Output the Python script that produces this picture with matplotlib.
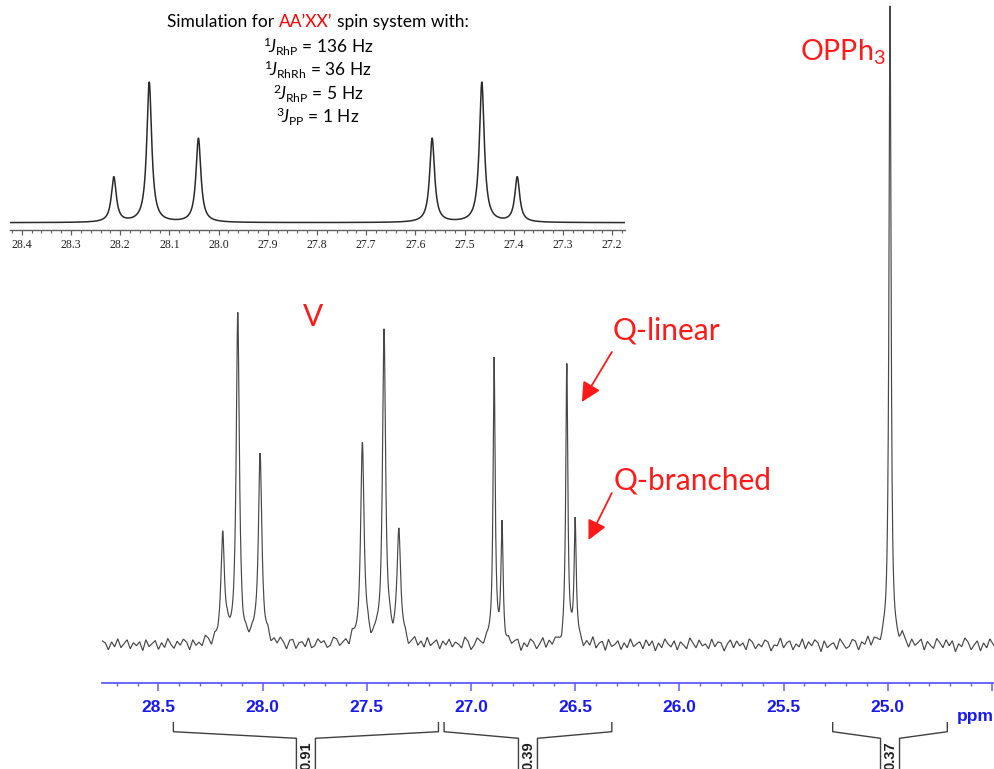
import numpy as np
import matplotlib
matplotlib.use("Agg")
import matplotlib.pyplot as plt
from matplotlib.ticker import MultipleLocator, FuncFormatter
from matplotlib.transforms import blended_transform_factory

# ---------------- data ----------------
# measured 31P spectrum: peak positions (ppm), heights (arb.), widths (ppm FWHM)
peak_ppm = [28.191, 28.119, 28.012, 27.521, 27.417, 27.346,
            26.889, 26.851, 26.540, 26.500, 24.989]
peak_height = [110, 325, 190, 198, 312, 112,
               287, 112, 279, 121, 634]
peak_width = [0.02, 0.018, 0.02, 0.02, 0.018, 0.02,
              0.012, 0.012, 0.012, 0.012, 0.012]

# baseline noise, every 0.015 ppm starting at 28.77 ppm
baseline_noise = [
    3, -2, 5, -4, 1, 6, -3, 2, -6, 4, 0, -5, 3, 7, -2, 1, -7, 4, -1, 5,
    -3, 2, 6, -4, -1, 3, -6, 5, 1, -2, 4, -5, 2, 8, -3, 0, -4, 6, -2, 3,
    -5, 1, 4, -3, 7, -1, 2, -6, 3, 5, -2, -4, 1, 6, -5, 2, 0, -3, 4, -7,
    2, 5, -1, 3, -4, 6, -2, 1, -5, 4, 2, -3, 7, -1, 0, -6, 3, 5, -2, 1,
    -4, 3, 6, -5, 2, -1, 4, -3, 5, 1, -6, 2, 3, -2, 6, -4, 1, -1, 5, -3,
    2, 7, -4, 0, 3, -5, 4, -2, 1, 6, -3, 2, -6, 4, -1, 5, -4, 3, 1, -2,
    6, -3, 2, -5, 4, 0, -2, 5, -6, 3, 1, -4, 7, -2, 2, -5, 3, 4, -1, 2,
    -3, 5, -6, 1, 4, -2, 3, -4, 6, 0, -5, 2, 5, -3, 1, -7, 4, 2, -2, 3,
    -4, 6, -1, 3, -5, 2, 4, -3, 1, 5, -2, -6, 3, 7, -4, 0, 2, -3, 5, -1,
    3, -5, 4, 1, -2, 6, -4, 2, -3, 5, 0, -6, 4, 2, -1, 3, -5, 6, -2, 1,
    -3, 4, 2, -6, 5, -1, 3, -4, 1, 7, -5, 2, 0, -3, 4, 6, -2, -4, 3, 1,
    5, -2, -4, 6, -3, 2, 1, -5, 4, 3, -6, 1, 5, -2, 2, -4, 6, -1, 3, -5,
    2, 4, -3, 1, -6, 5, 3, -2, 0, 6, -4, 2, -1, 4, -5, 3, 7, -3, 1, -2,
    4, -6, 2, 5, -1, 3, -4, 0, 6, -3, 2, -5, 4, 1, -2, 5, -6, 3, -1, 2,
    -4, 5, 1, -3, 6, -2, 3, -5, 2, 4,
]
noise_start_ppm = 28.77
noise_step_ppm = 0.015

# simulated AA'XX' spectrum (inset)
sim_ppm = [28.213, 28.141, 28.041, 27.566, 27.465, 27.393]
sim_height = [45, 140, 84, 84, 140, 45]
sim_width = 0.012

# integrals
integral_regions = [(28.428, 27.156), (27.129, 26.324), (25.264, 24.714)]
integral_labels = ["0.91", "0.39", "0.37"]

main_ticks_major = 0.5
main_ticks_minor = 0.1
inset_ticks_major = 0.1
inset_ticks_minor = 0.02

# ---------------- style ----------------
plt.rcParams["mathtext.fontset"] = "custom"
plt.rcParams["mathtext.rm"] = "Lato"
plt.rcParams["mathtext.it"] = "Lato:italic"
plt.rcParams["mathtext.bf"] = "Lato:bold"

W, H = 995, 769
fig = plt.figure(figsize=(W / 100, H / 100), dpi=100)
fig.patch.set_facecolor("white")


def lorentz_sum(x, centers, heights, widths):
    y = np.zeros_like(x)
    for c, h, w in zip(centers, heights, widths):
        g = w / 2.0
        y += h / (1.0 + ((x - c) / g) ** 2)
    return y


# ---------------- main spectrum ----------------
ax = fig.add_axes([101.7 / W, 1 - 683 / H, (994 - 101.7) / W, 683 / H])
xlo, xhi = 28.772, 24.490
ax.set_xlim(xlo, xhi)
ax.set_ylim(-38, 645)

x = np.linspace(28.78, 24.48, 6000)
noise_ppm = noise_start_ppm - noise_step_ppm * np.arange(len(baseline_noise))
noise = np.interp(x[::-1], noise_ppm[::-1], np.array(baseline_noise, float))[::-1]
y = lorentz_sum(x, peak_ppm, peak_height, peak_width) + noise
ax.plot(x, y, color="#474747", lw=0.85, solid_joinstyle="miter")

for s in ["top", "left", "right"]:
    ax.spines[s].set_visible(False)
ax.spines["bottom"].set_color("#5c5cff")
ax.spines["bottom"].set_linewidth(1.3)
ax.set_yticks([])
ax.xaxis.set_major_locator(MultipleLocator(main_ticks_major))
ax.xaxis.set_minor_locator(MultipleLocator(main_ticks_minor))
ax.xaxis.set_major_formatter(FuncFormatter(lambda v, p: "" if v < 24.75 else f"{v:.1f}"))
ax.tick_params(axis="x", which="major", direction="out", length=5.5, width=1.1,
               color="#5c5cff", pad=6.5, labelsize=12.5, labelcolor="#1818f0")
ax.tick_params(axis="x", which="minor", direction="out", length=2.3, width=1.0,
               color="#5c5cff")
for lab in ax.get_xticklabels():
    lab.set_family("Liberation Sans")
    lab.set_fontweight("bold")
ax.patch.set_alpha(0)

ax.text(1.0, -0.0375, "ppm", transform=ax.transAxes, ha="right", va="top",
        family="Liberation Sans", fontweight="bold", fontsize=12.5, color="#1818f0")

# integral brackets
bt = blended_transform_factory(ax.transData, fig.transFigure)
hw = 9.5 / 208.4
y_top, y_corner, y_mid = 1 - 722.7 / H, 1 - 731.7 / H, 1 - 738.3 / H
for (a, b), lab in zip(integral_regions, integral_labels):
    c = (a + b) / 2.0
    ax.plot([a, a, c + hw, c + hw], [y_top, y_corner, y_mid, -0.01], transform=bt,
            color="#404040", lw=1.0, clip_on=False)
    ax.plot([b, b, c - hw, c - hw], [y_top, y_corner, y_mid, -0.01], transform=bt,
            color="#404040", lw=1.0, clip_on=False)
    ax.text(c, 1 - 741 / H, lab, transform=bt, rotation=90, ha="center", va="top",
            family="Liberation Sans", fontweight="bold", fontsize=10.5, color="#202020",
            clip_on=False)

# annotations
red = "#ff1a1a"
ax.text(27.758, 328, "V", color=red, fontsize=21.5, family="Lato", ha="center", va="center")
ax.text(26.060, 315, "Q-linear", color=red, fontsize=21.5, family="Lato", ha="center", va="center")
ax.text(25.935, 165, "Q-branched", color=red, fontsize=21.5, family="Lato", ha="center", va="center")
ax.text(25.421, 593, "OPPh$_3$", color=red, fontsize=20.5, family="Lato", ha="left", va="center")
arrow_kw = dict(arrowstyle="-|>,head_length=0.9,head_width=0.45", color=red, lw=1.3,
                shrinkA=0, shrinkB=0, mutation_scale=13)
ax.annotate("", xy=(26.468, 243), xytext=(26.324, 293), arrowprops=arrow_kw)
ax.annotate("", xy=(26.436, 105), xytext=(26.324, 152), arrowprops=arrow_kw)

# ---------------- inset (simulation) ----------------
ins = fig.add_axes([10 / W, 1 - 230 / H, 615 / W, 230 / H], zorder=5)
ins.patch.set_alpha(0)
ins.set_xlim(28.424, 27.174)
ins.set_ylim(-7.3, 222.7)
xs = np.linspace(28.43, 27.17, 3000)
ins.plot(xs, lorentz_sum(xs, sim_ppm, sim_height, [sim_width] * len(sim_ppm)),
         color="#2a2a2a", lw=1.1)
for s in ["top", "left", "right"]:
    ins.spines[s].set_visible(False)
ins.spines["bottom"].set_color("#606060")
ins.spines["bottom"].set_linewidth(1.0)
ins.set_yticks([])
ins.xaxis.set_major_locator(MultipleLocator(inset_ticks_major))
ins.xaxis.set_minor_locator(MultipleLocator(inset_ticks_minor))
ins.xaxis.set_major_formatter(FuncFormatter(lambda v, p: f"{v:.1f}"))
ins.tick_params(axis="x", which="major", direction="out", length=3.5, width=0.9,
                color="#606060", pad=3, labelsize=8.5, labelcolor="#202020")
ins.tick_params(axis="x", which="minor", direction="out", length=2, width=0.8,
                color="#606060")
for lab in ins.get_xticklabels():
    lab.set_family("Liberation Serif")

# inset title with coloured part
fs_t = 12.5
cx = 318 / W
renderer = fig.canvas.get_renderer()
pieces = [("Simulation for", "black"), ("AA\u2019XX\u2019", "red"), ("spin system with:", "black")]
tarts = [fig.text(0, 1 - 22 / H, s, color=c, fontsize=fs_t, family="Lato", va="center", ha="left")
         for s, c in pieces]
probe1 = fig.text(0, 0, "a a", fontsize=fs_t, family="Lato")
probe2 = fig.text(0, 0, "aa", fontsize=fs_t, family="Lato")
sp = (probe1.get_window_extent(renderer).width - probe2.get_window_extent(renderer).width)
probe1.remove(); probe2.remove()
widths = [t.get_window_extent(renderer).width for t in tarts]
total = sum(widths) + 2 * sp
xpix = cx * W - total / 2
for t, w in zip(tarts, widths):
    t.set_x(xpix / W)
    xpix += w + sp

jlines = [r"$^{1}\!\mathit{J}_{\mathrm{RhP}}$ = 136 Hz",
          r"$^{1}\!\mathit{J}_{\mathrm{RhRh}}$ = 36 Hz",
          r"$^{2}\!\mathit{J}_{\mathrm{RhP}}$ = 5 Hz",
          r"$^{3}\!\mathit{J}_{\mathrm{PP}}$ = 1 Hz"]
for i, s in enumerate(jlines):
    fig.text(cx, 1 - (47 + 23.3 * i) / H, s, fontsize=fs_t, family="Lato",
             ha="center", va="center", color="black")

fig.savefig("out.png", dpi=100, facecolor="white")
